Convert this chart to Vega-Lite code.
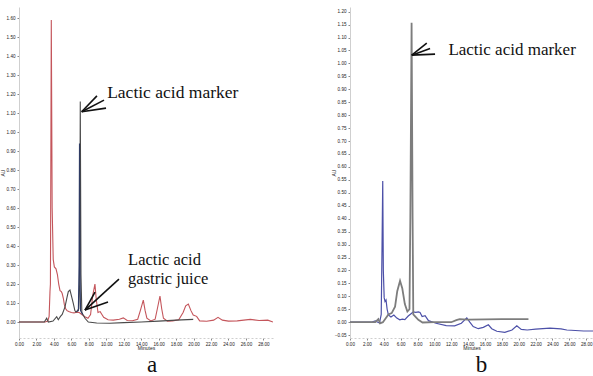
{
  "$schema": "https://vega.github.io/schema/vega-lite/v6.json",
  "padding": {"left": 0, "top": 7, "right": 0, "bottom": 0},
  "background": "white",
  "spacing": 77,
  "bounds": "flush",
  "resolve": {"scale": {"color": "independent", "strokeWidth": "independent"}},
  "config": {
    "view": {"stroke": null},
    "axis": {"labelFontSize": 4.6, "labelColor": "#222", "titleFontSize": 5, "titleColor": "#222", "titleFontWeight": "normal", "tickSize": 2, "tickColor": "#888", "domainColor": "#cfcfcf", "grid": false, "labelFont": "Liberation Sans", "titleFont": "Liberation Sans", "labelOverlap": false, "labelFlush": false, "tickCount": 100},
    "text": {"font": "Liberation Serif"},
    "title": {"font": "Liberation Serif", "fontSize": 23, "fontWeight": "normal", "color": "#111"}
  },
  "datasets": {
    "a": [
      {"s": "red", "t": 0, "v": 0}, {"s": "red", "t": 2, "v": 0}, {"s": "red", "t": 3.0, "v": 0}, {"s": "red", "t": 3.3, "v": 0.005}, {"s": "red", "t": 3.45, "v": 0.03}, {"s": "red", "t": 3.55, "v": 0.16}, {"s": "red", "t": 3.6, "v": 0.2}, {"s": "red", "t": 3.7, "v": 1.59}, {"s": "red", "t": 3.8, "v": 0.6}, {"s": "red", "t": 3.92, "v": 0.33}, {"s": "red", "t": 4.05, "v": 0.29}, {"s": "red", "t": 4.24, "v": 0.28}, {"s": "red", "t": 4.4, "v": 0.25}, {"s": "red", "t": 4.55, "v": 0.2}, {"s": "red", "t": 4.7, "v": 0.165}, {"s": "red", "t": 4.85, "v": 0.16}, {"s": "red", "t": 4.95, "v": 0.15}, {"s": "red", "t": 5.08, "v": 0.125}, {"s": "red", "t": 5.2, "v": 0.09}, {"s": "red", "t": 5.35, "v": 0.07}, {"s": "red", "t": 5.5, "v": 0.06}, {"s": "red", "t": 5.7, "v": 0.055}, {"s": "red", "t": 6.0, "v": 0.05}, {"s": "red", "t": 6.3, "v": 0.048}, {"s": "red", "t": 6.6, "v": 0.052}, {"s": "red", "t": 6.9, "v": 0.05}, {"s": "red", "t": 7.2, "v": 0.04}, {"s": "red", "t": 7.55, "v": 0.028}, {"s": "red", "t": 7.9, "v": 0.02}, {"s": "red", "t": 8.2, "v": 0.04}, {"s": "red", "t": 8.45, "v": 0.14}, {"s": "red", "t": 8.7, "v": 0.2}, {"s": "red", "t": 8.85, "v": 0.12}, {"s": "red", "t": 9.05, "v": 0.05}, {"s": "red", "t": 9.3, "v": 0.055}, {"s": "red", "t": 9.5, "v": 0.04}, {"s": "red", "t": 9.7, "v": 0.025}, {"s": "red", "t": 10.2, "v": 0.012}, {"s": "red", "t": 10.8, "v": 0.01}, {"s": "red", "t": 11.5, "v": 0.015}, {"s": "red", "t": 11.95, "v": 0.022}, {"s": "red", "t": 12.4, "v": 0.008}, {"s": "red", "t": 13.0, "v": 0.007}, {"s": "red", "t": 13.6, "v": 0.015}, {"s": "red", "t": 13.9, "v": 0.06}, {"s": "red", "t": 14.24, "v": 0.115}, {"s": "red", "t": 14.45, "v": 0.06}, {"s": "red", "t": 14.65, "v": 0.02}, {"s": "red", "t": 15.1, "v": 0.006}, {"s": "red", "t": 15.6, "v": 0.015}, {"s": "red", "t": 15.85, "v": 0.07}, {"s": "red", "t": 16.15, "v": 0.137}, {"s": "red", "t": 16.35, "v": 0.07}, {"s": "red", "t": 16.55, "v": 0.02}, {"s": "red", "t": 17.0, "v": 0.004}, {"s": "red", "t": 17.6, "v": 0.006}, {"s": "red", "t": 18.3, "v": 0.012}, {"s": "red", "t": 18.8, "v": 0.05}, {"s": "red", "t": 19.1, "v": 0.085}, {"s": "red", "t": 19.4, "v": 0.095}, {"s": "red", "t": 19.7, "v": 0.06}, {"s": "red", "t": 19.96, "v": 0.037}, {"s": "red", "t": 20.35, "v": 0.03}, {"s": "red", "t": 20.7, "v": 0.006}, {"s": "red", "t": 21.5, "v": 0.004}, {"s": "red", "t": 22.3, "v": 0.01}, {"s": "red", "t": 22.8, "v": 0.025}, {"s": "red", "t": 23.3, "v": 0.01}, {"s": "red", "t": 24.0, "v": 0.005}, {"s": "red", "t": 25.0, "v": 0.006}, {"s": "red", "t": 26.5, "v": 0.014}, {"s": "red", "t": 27.5, "v": 0.008}, {"s": "red", "t": 28.5, "v": 0.01}, {"s": "red", "t": 29.1, "v": 0.0},
      {"s": "gray", "t": 0, "v": 0}, {"s": "gray", "t": 2.9, "v": 0}, {"s": "gray", "t": 3.17, "v": 0.02}, {"s": "gray", "t": 3.36, "v": 0.0}, {"s": "gray", "t": 3.9, "v": 0.005}, {"s": "gray", "t": 4.32, "v": 0.028}, {"s": "gray", "t": 4.5, "v": 0.012}, {"s": "gray", "t": 4.75, "v": 0.03}, {"s": "gray", "t": 4.95, "v": 0.04}, {"s": "gray", "t": 5.27, "v": 0.08}, {"s": "gray", "t": 5.5, "v": 0.13}, {"s": "gray", "t": 5.65, "v": 0.16}, {"s": "gray", "t": 5.84, "v": 0.168}, {"s": "gray", "t": 6.05, "v": 0.13}, {"s": "gray", "t": 6.22, "v": 0.098}, {"s": "gray", "t": 6.4, "v": 0.06}, {"s": "gray", "t": 6.53, "v": 0.052}, {"s": "gray", "t": 6.7, "v": 0.06}, {"s": "gray", "t": 6.85, "v": 0.07}, {"s": "gray", "t": 6.95, "v": 0.2}, {"s": "gray", "t": 7.02, "v": 1.16}, {"s": "gray", "t": 7.1, "v": 0.25}, {"s": "gray", "t": 7.2, "v": 0.05}, {"s": "gray", "t": 7.56, "v": 0.02}, {"s": "gray", "t": 7.94, "v": 0.0}, {"s": "gray", "t": 8.9, "v": -0.005}, {"s": "gray", "t": 10.4, "v": -0.006}, {"s": "gray", "t": 12, "v": -0.003}, {"s": "gray", "t": 14, "v": 0.0}, {"s": "gray", "t": 16, "v": 0.005}, {"s": "gray", "t": 18, "v": 0.01}, {"s": "gray", "t": 19.96, "v": 0.014},
      {"s": "navy", "t": 6.6, "v": 0.055}, {"s": "navy", "t": 6.8, "v": 0.06}, {"s": "navy", "t": 6.88, "v": 0.3}, {"s": "navy", "t": 6.93, "v": 0.94}, {"s": "navy", "t": 6.98, "v": 0.3}, {"s": "navy", "t": 7.05, "v": 0.06}, {"s": "navy", "t": 7.3, "v": 0.04}
    ],
    "b": [
      {"s": "blue", "t": 0, "v": 0}, {"s": "blue", "t": 2.5, "v": 0}, {"s": "blue", "t": 3.0, "v": 0.005}, {"s": "blue", "t": 3.3, "v": 0}, {"s": "blue", "t": 3.5, "v": -0.003}, {"s": "blue", "t": 3.7, "v": 0.03}, {"s": "blue", "t": 3.8, "v": 0.3}, {"s": "blue", "t": 3.88, "v": 0.546}, {"s": "blue", "t": 3.95, "v": 0.2}, {"s": "blue", "t": 4.05, "v": 0.095}, {"s": "blue", "t": 4.15, "v": 0.08}, {"s": "blue", "t": 4.27, "v": 0.086}, {"s": "blue", "t": 4.4, "v": 0.05}, {"s": "blue", "t": 4.55, "v": 0.028}, {"s": "blue", "t": 4.85, "v": 0.02}, {"s": "blue", "t": 5.2, "v": 0.028}, {"s": "blue", "t": 5.55, "v": 0.016}, {"s": "blue", "t": 5.9, "v": 0.009}, {"s": "blue", "t": 6.2, "v": 0.012}, {"s": "blue", "t": 6.5, "v": 0.01}, {"s": "blue", "t": 6.9, "v": 0.024}, {"s": "blue", "t": 7.2, "v": 0.032}, {"s": "blue", "t": 7.5, "v": 0.04}, {"s": "blue", "t": 7.8, "v": 0.038}, {"s": "blue", "t": 8.1, "v": 0.04}, {"s": "blue", "t": 8.3, "v": 0.038}, {"s": "blue", "t": 8.55, "v": 0.022}, {"s": "blue", "t": 8.9, "v": 0.025}, {"s": "blue", "t": 9.3, "v": 0.006}, {"s": "blue", "t": 10.2, "v": -0.004}, {"s": "blue", "t": 11.4, "v": -0.013}, {"s": "blue", "t": 12.4, "v": -0.014}, {"s": "blue", "t": 13.2, "v": -0.004}, {"s": "blue", "t": 13.84, "v": 0.017}, {"s": "blue", "t": 14.2, "v": 0.0}, {"s": "blue", "t": 14.6, "v": -0.017}, {"s": "blue", "t": 15.2, "v": -0.025}, {"s": "blue", "t": 15.8, "v": -0.02}, {"s": "blue", "t": 16.4, "v": -0.01}, {"s": "blue", "t": 16.8, "v": -0.025}, {"s": "blue", "t": 17.4, "v": -0.035}, {"s": "blue", "t": 18.35, "v": -0.039}, {"s": "blue", "t": 19.2, "v": -0.03}, {"s": "blue", "t": 19.77, "v": -0.014}, {"s": "blue", "t": 20.3, "v": -0.028}, {"s": "blue", "t": 21.0, "v": -0.03}, {"s": "blue", "t": 22.0, "v": -0.027}, {"s": "blue", "t": 23.7, "v": -0.023}, {"s": "blue", "t": 25.0, "v": -0.026}, {"s": "blue", "t": 25.7, "v": -0.03}, {"s": "blue", "t": 27.7, "v": -0.034}, {"s": "blue", "t": 28.8, "v": -0.034},
      {"s": "gray", "t": 0, "v": 0}, {"s": "gray", "t": 3.0, "v": 0}, {"s": "gray", "t": 3.36, "v": 0.012}, {"s": "gray", "t": 3.56, "v": -0.004}, {"s": "gray", "t": 3.9, "v": 0}, {"s": "gray", "t": 4.55, "v": 0.03}, {"s": "gray", "t": 4.94, "v": 0.035}, {"s": "gray", "t": 5.34, "v": 0.06}, {"s": "gray", "t": 5.6, "v": 0.12}, {"s": "gray", "t": 5.93, "v": 0.16}, {"s": "gray", "t": 6.2, "v": 0.13}, {"s": "gray", "t": 6.5, "v": 0.07}, {"s": "gray", "t": 6.8, "v": 0.041}, {"s": "gray", "t": 7.05, "v": 0.05}, {"s": "gray", "t": 7.15, "v": 0.4}, {"s": "gray", "t": 7.3, "v": 1.157}, {"s": "gray", "t": 7.42, "v": 0.4}, {"s": "gray", "t": 7.5, "v": 0.03}, {"s": "gray", "t": 8.1, "v": 0.009}, {"s": "gray", "t": 8.6, "v": -0.001}, {"s": "gray", "t": 10, "v": 0}, {"s": "gray", "t": 12, "v": 0}, {"s": "gray", "t": 12.6, "v": 0.008}, {"s": "gray", "t": 13, "v": 0.012}, {"s": "gray", "t": 14, "v": 0.01}, {"s": "gray", "t": 16, "v": 0.011}, {"s": "gray", "t": 18, "v": 0.012}, {"s": "gray", "t": 21.15, "v": 0.012}
    ],
    "arrowsA": [
      {"t": 7.18, "v": 1.107, "t2": 8.93, "v2": 1.19},
      {"t": 7.18, "v": 1.107, "t2": 9.74, "v2": 1.168},
      {"t": 7.18, "v": 1.107, "t2": 9.97, "v2": 1.126},
      {"t": 7.56, "v": 0.063, "t2": 11.45, "v2": 0.226},
      {"t": 7.56, "v": 0.063, "t2": 8.71, "v2": 0.158},
      {"t": 7.56, "v": 0.063, "t2": 10.2, "v2": 0.105}
    ],
    "labelsA": [
      {"t": 10.1, "v": 1.18, "label": "Lactic acid marker", "size": "big"},
      {"t": 12.5, "v": 0.3, "label": "Lactic acid", "size": "small"},
      {"t": 12.5, "v": 0.2, "label": "gastric juice", "size": "small"}
    ],
    "arrowsB": [
      {"t": 7.32, "v": 1.032, "t2": 9.1, "v2": 1.078},
      {"t": 7.32, "v": 1.032, "t2": 9.49, "v2": 1.058},
      {"t": 7.32, "v": 1.032, "t2": 10.08, "v2": 1.036}
    ],
    "labelsB": [
      {"t": 11.66, "v": 1.032, "label": "Lactic acid marker"}
    ]
  },
  "hconcat": [
    {
      "width": 254,
      "height": 331,
      "title": {"text": "a", "orient": "bottom", "offset": 3, "dx": 6},
      "layer": [
        {
          "data": {"name": "a"},
          "mark": {"type": "line", "strokeWidth": 1.1, "clip": true},
          "encoding": {
            "x": {"field": "t", "type": "quantitative", "title": "Minutes", "scale": {"domain": [0, 29.1], "nice": false, "zero": false}, "axis": {"values": [0, 2, 4, 6, 8, 10, 12, 14, 16, 18, 20, 22, 24, 26, 28], "tickCount": 100, "format": ".2f", "domainDash": [2, 2], "labelPadding": 1, "titlePadding": 0, "labelOverlap": false, "labelFlush": false, "labelBound": false}},
            "y": {"field": "v", "type": "quantitative", "title": "AU", "scale": {"domain": [-0.084, 1.658], "nice": false, "zero": false}, "axis": {"values": [0, 0.1, 0.2, 0.3, 0.4, 0.5, 0.6, 0.7, 0.8, 0.9, 1.0, 1.1, 1.2, 1.3, 1.4, 1.5, 1.6], "tickCount": 100, "format": ".2f", "labelPadding": 2, "titleX": -14, "labelOverlap": false, "labelFlush": false, "labelBound": false}},
            "detail": {"field": "s"},
            "color": {"field": "s", "type": "nominal", "scale": {"domain": ["red", "gray", "navy"], "range": ["#c4555b", "#4a4a4a", "#2f3b63"]}, "legend": null}
          }
        },
        {
          "data": {"name": "arrowsA"},
          "mark": {"type": "rule", "color": "#111", "strokeWidth": 1.6},
          "encoding": {
            "x": {"field": "t", "type": "quantitative"},
            "y": {"field": "v", "type": "quantitative"},
            "x2": {"field": "t2"},
            "y2": {"field": "v2"}
          }
        },
        {
          "data": {"name": "labelsA"},
          "mark": {"type": "text", "font": "Liberation Serif", "align": "left", "baseline": "alphabetic", "color": "#111"},
          "encoding": {
            "x": {"field": "t", "type": "quantitative"},
            "y": {"field": "v", "type": "quantitative"},
            "text": {"field": "label"},
            "size": {"field": "size", "type": "nominal", "scale": {"domain": ["big", "small"], "range": [17.5, 16.5]}, "legend": null}
          }
        }
      ]
    },
    {
      "width": 243,
      "height": 331,
      "title": {"text": "b", "orient": "bottom", "offset": 3, "dx": 10},
      "layer": [
        {
          "data": {"name": "b"},
          "mark": {"type": "line", "clip": true},
          "encoding": {
            "x": {"field": "t", "type": "quantitative", "title": "Minutes", "scale": {"domain": [0, 28.8], "nice": false, "zero": false}, "axis": {"values": [0, 2, 4, 6, 8, 10, 12, 14, 16, 18, 20, 22, 24, 26, 28], "tickCount": 100, "format": ".2f", "domainDash": [2, 2], "labelPadding": 1, "titlePadding": 0, "labelOverlap": false, "labelFlush": false, "labelBound": false}},
            "y": {"field": "v", "type": "quantitative", "title": "AU", "scale": {"domain": [-0.061, 1.218], "nice": false, "zero": false}, "axis": {"values": [-0.05, 0, 0.05, 0.1, 0.15, 0.2, 0.25, 0.3, 0.35, 0.4, 0.45, 0.5, 0.55, 0.6, 0.65, 0.7, 0.75, 0.8, 0.85, 0.9, 0.95, 1.0, 1.05, 1.1, 1.15, 1.2], "tickCount": 100, "format": ".2f", "labelPadding": 2, "titleX": -14, "labelOverlap": false, "labelFlush": false, "labelBound": false}},
            "detail": {"field": "s"},
            "color": {"field": "s", "type": "nominal", "scale": {"domain": ["gray", "blue"], "range": ["#7d7d7d", "#4c50a8"]}, "legend": null},
            "strokeWidth": {"field": "s", "type": "nominal", "scale": {"domain": ["gray", "blue"], "range": [1.8, 1.2]}, "legend": null}
          }
        },
        {
          "data": {"name": "arrowsB"},
          "mark": {"type": "rule", "color": "#111", "strokeWidth": 1.6},
          "encoding": {
            "x": {"field": "t", "type": "quantitative"},
            "y": {"field": "v", "type": "quantitative"},
            "x2": {"field": "t2"},
            "y2": {"field": "v2"}
          }
        },
        {
          "data": {"name": "labelsB"},
          "mark": {"type": "text", "font": "Liberation Serif", "fontSize": 17, "align": "left", "baseline": "alphabetic", "color": "#111"},
          "encoding": {
            "x": {"field": "t", "type": "quantitative"},
            "y": {"field": "v", "type": "quantitative"},
            "text": {"field": "label"}
          }
        }
      ]
    }
  ]
}
